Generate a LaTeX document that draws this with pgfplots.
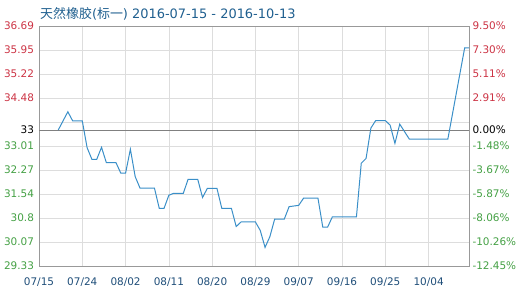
\documentclass[border=0pt]{standalone}
\usepackage{pgfplots}
\pgfplotsset{compat=1.18}
\usepackage{fontspec}
\setmainfont{DejaVu Sans}
\newfontfamily\cjk{Noto Sans CJK SC}
\definecolor{lblred}{HTML}{CC3344}
\definecolor{lblgreen}{HTML}{44A044}
\definecolor{xlab}{HTML}{1F4E79}
\definecolor{titleblue}{HTML}{1F5F8F}
\definecolor{linec}{HTML}{3A8FC8}
\definecolor{gridc}{HTML}{DDDDDD}
\definecolor{borderc}{HTML}{999999}
\newcommand{\R}[1]{\textcolor{lblred}{#1}}
\newcommand{\G}[1]{\textcolor{lblgreen}{#1}}
\pgfplotstableread{
d v
4 33.50
5 33.78
6 34.06
7 33.78
8 33.78
9 33.78
10 32.96
11 32.60
12 32.60
13 32.97
14 32.50
15 32.50
16 32.50
17 32.18
18 32.18
19 32.91
20 32.07
21 31.72
22 31.72
23 31.72
24 31.72
25 31.10
26 31.10
27 31.50
28 31.56
29 31.56
30 31.56
31 31.99
32 31.99
33 31.99
34 31.43
35 31.71
36 31.71
37 31.71
38 31.10
39 31.10
40 31.10
41 30.54
42 30.68
43 30.68
44 30.68
45 30.68
46 30.42
47 29.90
48 30.23
49 30.77
50 30.77
51 30.77
52 31.15
53 31.17
54 31.19
55 31.41
56 31.41
57 31.41
58 31.41
59 30.52
60 30.52
61 30.84
62 30.84
63 30.84
64 30.84
65 30.84
66 30.84
67 32.48
68 32.63
69 33.56
70 33.79
71 33.79
72 33.79
73 33.65
74 33.09
75 33.68
76 33.45
77 33.22
78 33.22
79 33.22
80 33.22
81 33.22
82 33.22
83 33.22
84 33.22
85 33.22
88.5 36.02
89.4 36.02
}\rubber
\begin{document}
\begin{tikzpicture}
\useasboundingbox (0,0) rectangle (519bp,293bp);
\node[anchor=base west, inner sep=0pt, text=titleblue, font=\fontsize{13}{15}\selectfont] at (40bp,274.5bp) {{\cjk 天然橡胶}({\cjk 标一}) 2016-07-15 - 2016-10-13};
\begin{axis}[
  at={(39bp,27bp)}, anchor=south west,
  width=430bp, height=240bp, scale only axis,
  xmin=0, xmax=89.4, ymin=29.33, ymax=36.69,
  xtick={0,9,...,81},
  xticklabels={07/15,07/24,08/02,08/11,08/20,08/29,09/07,09/16,09/25,10/04},
  ytick={29.33,30.066,30.802,31.538,32.274,33.01,33.746,34.482,35.218,35.954,36.69},
  yticklabels={\G{29.33},\G{30.07},\G{30.8},\G{31.54},\G{32.27},\G{33.01},{},\R{34.48},\R{35.22},\R{35.95},\R{36.69}},
  extra y ticks={33.5}, extra y tick labels={33},
  extra y tick style={grid=major, major grid style={draw=black!50, line width=0.8bp}},
  grid=major, major grid style={draw=gridc, line width=0.7bp},
  major tick length=0pt,
  axis line style={draw=borderc, line width=0.8bp},
  tick label style={font=\fontsize{10.5}{12}\selectfont},
  xticklabel style={text=xlab, yshift=-8bp},
  yticklabel style={xshift=-1.5bp},
  /pgf/number format/assume math mode=true,
  clip=false,
]
\addplot[linec, line width=1bp] table[x=d, y=v] {\rubber};
\end{axis}
\begin{axis}[
  at={(39bp,27bp)}, anchor=south west,
  width=430bp, height=240bp, scale only axis,
  xmin=0, xmax=89.4, ymin=29.33, ymax=36.69,
  axis x line=none, axis y line*=right,
  ytick={29.33,30.066,30.802,31.538,32.274,33.01,33.746,34.482,35.218,35.954,36.69},
  yticklabels={\G{-12.45\%},\G{-10.26\%},\G{-8.06\%},\G{-5.87\%},\G{-3.67\%},\G{-1.48\%},{},\R{2.91\%},\R{5.11\%},\R{7.30\%},\R{9.50\%}},
  extra y ticks={33.5}, extra y tick labels={0.00\%},
  major tick length=0pt,
  axis line style={draw=borderc, line width=0.8bp},
  tick label style={font=\fontsize{10.5}{12}\selectfont},
  /pgf/number format/assume math mode=true,
]
\end{axis}
\end{tikzpicture}
\end{document}
